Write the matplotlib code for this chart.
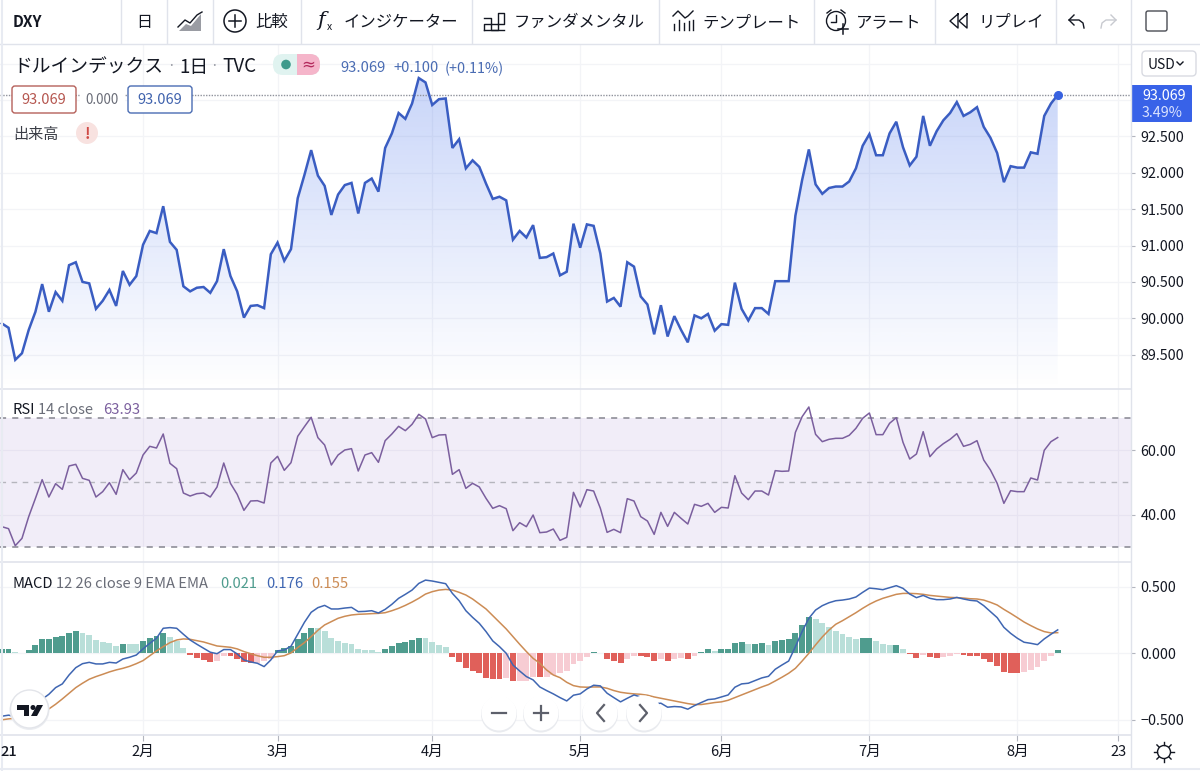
import numpy as np
import matplotlib
matplotlib.use('Agg')
import matplotlib.pyplot as plt
from matplotlib.patches import Circle, FancyBboxPatch, Polygon, Rectangle

plt.rcParams['font.family'] = ['Noto Sans CJK JP', 'DejaVu Sans']

price = [89.93, 89.87, 89.43, 89.52, 89.84, 90.09, 90.47, 90.09, 90.36, 90.24, 90.73, 90.77, 90.50, 90.48, 90.13, 90.24,
         90.39, 90.17, 90.65, 90.46, 90.58, 91.01, 91.20, 91.17, 91.54, 91.05, 90.94, 90.44, 90.37, 90.42, 90.43, 90.35,
         90.51, 90.95, 90.58, 90.37, 90.01, 90.17, 90.18, 90.14, 90.88, 91.04, 90.79, 90.95, 91.65, 91.97, 92.31, 91.96,
         91.82, 91.42, 91.70, 91.83, 91.86, 91.44, 91.86, 91.92, 91.74, 92.34, 92.54, 92.82, 92.74, 92.95, 93.30, 93.24,
         92.93, 93.01, 93.02, 92.34, 92.46, 92.06, 92.17, 92.08, 91.85, 91.64, 91.67, 91.62, 91.08, 91.20, 91.11, 91.28,
         90.83, 90.84, 90.89, 90.59, 90.64, 91.30, 90.97, 91.29, 91.27, 90.89, 90.23, 90.28, 90.16, 90.77, 90.71, 90.30,
         90.19, 89.78, 90.18, 89.75, 90.03, 89.84, 89.67, 90.04, 90.00, 90.06, 89.83, 89.92, 89.91, 90.49, 90.13, 89.97,
         90.14, 90.14, 90.06, 90.51, 90.51, 90.51, 91.41, 91.90, 92.32, 91.84, 91.71, 91.79, 91.81, 91.81, 91.88, 92.06,
         92.37, 92.53, 92.24, 92.24, 92.54, 92.70, 92.35, 92.10, 92.22, 92.78, 92.37, 92.57, 92.72, 92.82, 92.97, 92.78,
         92.83, 92.90, 92.63, 92.48, 92.27, 91.87, 92.09, 92.07, 92.07, 92.28, 92.26, 92.78, 92.95, 93.069]

rsi = [36.22, 35.60, 30.31, 32.59, 39.33, 45.02, 50.83, 45.44, 49.58, 47.82, 55.08, 55.60, 51.24, 50.62, 45.44, 47.10,
       49.90, 46.27, 53.94, 50.83, 52.90, 58.50, 61.19, 60.67, 65.03, 55.91, 54.25, 46.68, 45.75, 46.48, 46.68, 45.44,
       48.55, 56.01, 49.69, 46.27, 41.29, 44.20, 44.30, 43.57, 56.01, 58.08, 53.73, 56.11, 64.30, 67.31, 70.21, 63.89,
       61.61, 55.39, 58.50, 60.05, 60.47, 53.52, 58.50, 59.22, 56.22, 62.95, 65.03, 67.41, 66.06, 68.03, 71.14, 69.69,
       63.89, 64.71, 64.82, 52.49, 53.94, 48.13, 49.69, 48.55, 45.02, 41.92, 42.75, 41.81, 34.97, 37.46, 36.22, 39.84,
       34.35, 34.56, 35.49, 31.97, 32.90, 46.89, 42.33, 47.72, 47.30, 41.92, 34.45, 35.39, 34.35, 44.92, 44.20, 39.33,
       37.98, 33.83, 40.67, 36.32, 40.67, 38.81, 37.05, 43.16, 42.54, 43.47, 40.67, 42.23, 42.02, 52.07, 46.68, 44.61,
       47.30, 47.30, 46.06, 53.63, 53.42, 53.52, 65.54, 70.41, 73.42, 64.92, 62.64, 63.37, 63.68, 63.68, 64.61, 66.79,
       69.90, 71.55, 64.82, 64.82, 68.34, 70.10, 62.43, 57.25, 58.81, 65.75, 57.98, 60.36, 62.02, 63.37, 65.13, 61.19,
       61.81, 62.95, 56.94, 53.83, 49.69, 43.47, 47.41, 47.10, 47.10, 51.35, 50.72, 59.95, 62.64, 63.93]

macd = [-0.473, -0.465, -0.475, -0.445, -0.413, -0.375, -0.345, -0.308, -0.258, -0.230, -0.163, -0.108, -0.078, -0.068,
        -0.080, -0.080, -0.068, -0.073, -0.043, -0.030, -0.013, 0.033, 0.075, 0.113, 0.188, 0.193, 0.188, 0.143, 0.100,
        0.068, 0.038, 0.008, -0.003, 0.028, 0.028, -0.005, -0.050, -0.065, -0.075, -0.100, -0.050, 0.018, 0.025, 0.053,
        0.143, 0.233, 0.308, 0.343, 0.360, 0.333, 0.333, 0.340, 0.345, 0.313, 0.315, 0.320, 0.303, 0.330, 0.368, 0.413,
        0.443, 0.475, 0.525, 0.550, 0.543, 0.533, 0.523, 0.450, 0.395, 0.320, 0.270, 0.225, 0.163, 0.093, 0.050, 0.000,
        -0.088, -0.133, -0.175, -0.200, -0.253, -0.280, -0.305, -0.333, -0.358, -0.315, -0.305, -0.268, -0.240, -0.245,
        -0.300, -0.333, -0.365, -0.338, -0.313, -0.328, -0.345, -0.380, -0.375, -0.405, -0.400, -0.403, -0.420, -0.393,
        -0.370, -0.348, -0.343, -0.328, -0.313, -0.255, -0.230, -0.225, -0.205, -0.185, -0.173, -0.120, -0.088, -0.058,
        0.050, 0.163, 0.263, 0.325, 0.358, 0.380, 0.395, 0.400, 0.408, 0.423, 0.458, 0.490, 0.485, 0.478, 0.493, 0.508,
        0.488, 0.445, 0.418, 0.435, 0.413, 0.403, 0.403, 0.408, 0.420, 0.408, 0.398, 0.393, 0.358, 0.313, 0.268, 0.195,
        0.150, 0.113, 0.083, 0.075, 0.065, 0.108, 0.143, 0.176]

signal = [-0.500, -0.493, -0.488, -0.483, -0.473, -0.458, -0.440, -0.418, -0.383, -0.343, -0.300, -0.258, -0.225, -0.195,
          -0.175, -0.158, -0.140, -0.125, -0.113, -0.098, -0.078, -0.055, -0.018, 0.018, 0.050, 0.080, 0.100, 0.108, 0.105,
          0.095, 0.085, 0.070, 0.055, 0.050, 0.045, 0.033, 0.013, -0.003, -0.018, -0.030, -0.030, -0.025, -0.018, 0.003,
          0.043, 0.080, 0.125, 0.173, 0.213, 0.238, 0.263, 0.278, 0.288, 0.293, 0.295, 0.298, 0.300, 0.305, 0.320, 0.338,
          0.360, 0.385, 0.413, 0.445, 0.463, 0.475, 0.480, 0.475, 0.458, 0.438, 0.408, 0.370, 0.333, 0.283, 0.233, 0.183,
          0.125, 0.068, 0.013, -0.038, -0.075, -0.125, -0.163, -0.183, -0.218, -0.243, -0.253, -0.255, -0.253, -0.253,
          -0.263, -0.280, -0.293, -0.300, -0.305, -0.308, -0.315, -0.328, -0.338, -0.348, -0.358, -0.368, -0.378, -0.385,
          -0.385, -0.378, -0.370, -0.365, -0.353, -0.333, -0.313, -0.293, -0.273, -0.253, -0.235, -0.208, -0.180, -0.150,
          -0.113, -0.058, 0.000, 0.063, 0.123, 0.175, 0.218, 0.245, 0.275, 0.305, 0.338, 0.368, 0.393, 0.413, 0.428, 0.443,
          0.450, 0.450, 0.448, 0.443, 0.435, 0.430, 0.425, 0.420, 0.418, 0.415, 0.410, 0.408, 0.400, 0.383, 0.363, 0.330,
          0.300, 0.268, 0.235, 0.208, 0.183, 0.163, 0.153, 0.155]

hist = [0.030, 0.035, 0.010, 0.005, 0.028, 0.060, 0.105, 0.110, 0.126, 0.128, 0.153, 0.168, 0.153, 0.140, 0.100, 0.083,
        0.080, 0.058, 0.073, 0.070, 0.068, 0.095, 0.115, 0.128, 0.150, 0.125, 0.090, 0.038, -0.012, -0.035, -0.050, -0.065,
        -0.055, -0.020, -0.022, -0.040, -0.065, -0.075, -0.070, -0.060, -0.040, 0.025, 0.043, 0.053, 0.105, 0.153, 0.193,
        0.190, 0.165, 0.115, 0.093, 0.078, 0.070, 0.030, 0.026, 0.025, 0.008, 0.035, 0.058, 0.080, 0.088, 0.098, 0.115,
        0.113, 0.083, 0.060, 0.045, -0.028, -0.065, -0.110, -0.130, -0.145, -0.188, -0.192, -0.194, -0.185, -0.210, -0.208,
        -0.205, -0.178, -0.180, -0.175, -0.160, -0.150, -0.135, -0.080, -0.055, -0.025, 0.012, 0.003, -0.040, -0.060,
        -0.073, -0.040, -0.018, -0.020, -0.030, -0.058, -0.043, -0.058, -0.040, -0.038, -0.043, -0.020, 0.012, 0.030, 0.020,
        0.030, 0.035, 0.080, 0.082, 0.070, 0.072, 0.075, 0.065, 0.090, 0.100, 0.105, 0.155, 0.215, 0.270, 0.260, 0.225,
        0.200, 0.170, 0.145, 0.123, 0.110, 0.115, 0.118, 0.093, 0.068, 0.060, 0.063, 0.035, -0.008, -0.032, -0.012, -0.030,
        -0.032, -0.025, -0.020, -0.005, -0.013, -0.018, -0.020, -0.043, -0.068, -0.098, -0.138, -0.147, -0.149, -0.138,
        -0.125, -0.105, -0.058, -0.018, 0.021]

month_pos = [21, 41, 64, 86, 107, 129, 151, 166]
month_labels = ['2月', '3月', '4月', '5月', '6月', '7月', '8月', '23']
price_ticks = [89.5, 90.0, 90.5, 91.0, 91.5, 92.0, 92.5]
rsi_ticks = [40, 60]
macd_ticks = [-0.5, 0.0, 0.5]

GRID = '#f3f4f7'
EDGE = '#e0e3eb'
TXT = '#131722'
BLUE = '#3a5dc2'


def pane(top, bottom, ymin, ymax):
    a = fig.add_axes([0, 1 - bottom / 771, 1131 / 1200, (bottom - top) / 771])
    a.set_xlim(-0.268, 167.9)
    a.set_ylim(ymin, ymax)
    for s in a.spines.values():
        s.set_visible(False)
    a.yaxis.tick_right()
    a.set_xticks(month_pos)
    a.tick_params(axis='x', length=0, labelbottom=False)
    a.tick_params(axis='y', length=3, color='#b2b5be', labelsize=10.3, labelcolor=TXT, pad=4)
    a.grid(True, color=GRID, linewidth=0.9)
    a.set_axisbelow(True)
    return a


fig = plt.figure(figsize=(12, 7.71), dpi=100, facecolor='white')
x = np.arange(len(price))

# price pane
ax1 = pane(44, 389, 89.029, 93.768)
ax1.set_yticks(price_ticks, ['%.3f' % v for v in price_ticks])
ax1.axhline(93.0, color=GRID, lw=0.9, zorder=0.5)
ax1.axhline(93.5, color=GRID, lw=0.9, zorder=0.5)
area = ax1.fill_between(x, price, 89.029, color='none')
grad = np.zeros((256, 1, 4))
grad[:, :, :3] = matplotlib.colors.to_rgb('#2f5fe8')
grad[:, 0, 3] = np.linspace(0.26, 0.0, 256)
im = ax1.imshow(grad, extent=[x[0], x[-1], 89.029, max(price)], aspect='auto', origin='upper', zorder=1)
im.set_clip_path(area.get_paths()[0], ax1.transData)
ax1.set_xlim(-0.268, 167.9)
ax1.set_ylim(89.029, 93.768)
ax1.plot(x, price, color=BLUE, lw=1.8, zorder=3, solid_joinstyle='miter')
ax1.axhline(price[-1], color='#8f929c', lw=1, ls=(0, (1, 1)), zorder=2)
ax1.plot(x[-1], price[-1], 'o', color='#3862e0', ms=5.5, zorder=4)

# RSI pane
ax2 = pane(389, 562, 25.24, 79.01)
ax2.set_yticks(rsi_ticks, ['%.2f' % v for v in rsi_ticks])
ax2.axhspan(30, 70, color='#7e57c2', alpha=0.10, lw=0, zorder=1)
ax2.axhline(70, color='#85858f', lw=1.1, ls=(0, (4, 4)), zorder=2)
ax2.axhline(50, color='#b5b5bd', lw=1, ls=(0, (4, 4)), zorder=2)
ax2.axhline(30, color='#85858f', lw=1.1, ls=(0, (4, 4)), zorder=2)
ax2.plot(x, rsi, color='#7b5f9e', lw=1.1, zorder=3)

# MACD pane
ax3 = pane(562, 735, -0.614, 0.686)
ax3.set_yticks(macd_ticks, ['−0.500', '0.000', '0.500'])
bar_colors = []
for i, v in enumerate(hist):
    prev = hist[i - 1] if i > 0 else 0
    if v >= 0:
        bar_colors.append('#4f9c8e' if v > prev else '#b9dfd9')
    else:
        bar_colors.append('#e0605a' if v < prev else '#f7ccd3')
ax3.bar(x, hist, width=0.88, color=bar_colors, zorder=2)
ax3.plot(x, signal, color='#cc8c55', lw=1.1, zorder=3)
ax3.plot(x, macd, color='#3f66b2', lw=1.1, zorder=4)
ax3.tick_params(axis='x', length=4, color='#b2b5be', labelbottom=True, labelsize=10.5, labelcolor=TXT, pad=3)
ax3.set_xticks(month_pos, month_labels)

# everything around the panes, in pixels
ov = fig.add_axes([0, 0, 1, 1], zorder=10)
ov.set_xlim(0, 1200)
ov.set_ylim(771, 0)
ov.axis('off')
ov.patch.set_alpha(0)

ov.plot([0, 1200], [43.5, 43.5], color=EDGE, lw=1)
for yy in (389, 562, 735):
    ov.plot([0, 1131], [yy, yy], color=EDGE, lw=1.2)
ov.plot([1131, 1131], [0, 768], color=EDGE, lw=1)
ov.plot([1.5, 1.5], [0, 771], color='#e8ebf2', lw=1.5)
ov.plot([0, 1200], [768.5, 768.5], color='#e8ebf2', lw=1.5)
for sx in (121, 166.5, 212.5, 301, 471.5, 659, 814, 935, 1056):
    ov.plot([sx, sx], [0, 43], color=EDGE, lw=1)

# toolbar
ov.text(13, 22, 'DXY', fontsize=11, fontweight='bold', color=TXT, va='center')
ov.text(144, 22.5, '日', fontsize=11.5, color=TXT, va='center', ha='center')
ov.add_patch(Polygon([(179, 31), (186, 24), (191, 26), (201, 14), (201, 31)], fc='#9a9ca3', ec='none'))
ov.plot([178, 185, 190, 197, 202], [27, 20, 23, 15, 12], color=TXT, lw=1)
ov.add_patch(Circle((235, 21), 11, fc='none', ec=TXT, lw=1.1))
ov.plot([229, 241], [21, 21], color=TXT, lw=1.1)
ov.plot([235, 235], [15, 27], color=TXT, lw=1.1)
ov.text(272, 22.5, '比較', fontsize=11.8, color=TXT, va='center', ha='center')
ov.text(321, 20, 'f', fontsize=15, color=TXT, va='center', ha='center', style='italic', family='DejaVu Serif')
ov.text(329, 27, 'x', fontsize=7.5, color=TXT, va='center', ha='center')
ov.text(401, 22.5, 'インジケーター', fontsize=11.8, color=TXT, va='center', ha='center')
ov.plot([484, 484, 504, 504, 498, 498, 491, 491, 484], [30, 24, 24, 13, 13, 30, 30, 18, 18], color=TXT, lw=1)
ov.plot([484, 504], [30, 30], color=TXT, lw=1)
ov.text(579, 22.5, 'ファンダメンタル', fontsize=11.8, color=TXT, va='center', ha='center')
ov.plot([673, 678, 685, 688, 693], [16, 11, 18, 16, 11], color=TXT, lw=1)
for bx, bt in zip((674, 679, 684, 689, 693), (24, 20, 23, 21, 20)):
    ov.plot([bx, bx], [bt, 30], color=TXT, lw=1)
ov.text(752, 22.5, 'テンプレート', fontsize=11.8, color=TXT, va='center', ha='center')
ov.add_patch(Circle((836, 21), 9.5, fc='none', ec=TXT, lw=1))
ov.plot([836, 836, 831], [15, 22, 22], color=TXT, lw=1)
ov.plot([827, 831], [13, 10], color=TXT, lw=1)
ov.plot([845, 841], [13, 10], color=TXT, lw=1)
ov.plot([838, 848], [29, 29], color=TXT, lw=1.1)
ov.plot([843, 843], [24, 34], color=TXT, lw=1.1)
ov.text(889, 22.5, 'アラート', fontsize=11.8, color=TXT, va='center', ha='center')
ov.plot([958, 950, 958, 958], [14, 21, 28, 14], color=TXT, lw=1)
ov.plot([967, 959, 967, 967], [14, 21, 28, 14], color=TXT, lw=1)
ov.text(1011, 22.5, 'リプレイ', fontsize=11.8, color=TXT, va='center', ha='center')
ov.plot([1084, 1083, 1079, 1069], [28, 23, 20, 20], color=TXT, lw=1)
ov.plot([1074, 1069, 1074], [15, 20, 25], color=TXT, lw=1)
ov.plot([1101, 1102, 1106, 1116], [28, 23, 20, 20], color='#c8cad0', lw=1)
ov.plot([1111, 1116, 1111], [15, 20, 25], color='#c8cad0', lw=1)
ov.add_patch(FancyBboxPatch((1146, 11), 21, 20, boxstyle='round,pad=0,rounding_size=2', fc='white', ec='#4a4c54', lw=1))

# chart title row
ov.text(13, 67, 'ドルインデックス', fontsize=13.5, color=TXT, va='center')
ov.text(171, 66, '·', fontsize=10, color='#9598a1', va='center', ha='center')
ov.text(194, 67, '1日', fontsize=13.5, color=TXT, va='center', ha='center')
ov.text(214, 66, '·', fontsize=10, color='#9598a1', va='center', ha='center')
ov.text(222, 66, 'TVC', fontsize=13.5, color=TXT, va='center')
ov.add_patch(FancyBboxPatch((273, 54), 47, 21, boxstyle='round,pad=0,rounding_size=10', fc='#e0f3f0', ec='none'))
pink = FancyBboxPatch((273, 54), 47, 21, boxstyle='round,pad=0,rounding_size=10', fc='#f5b5ca', ec='none')
ov.add_patch(pink)
clip_rect = Rectangle((297, 50), 30, 30, transform=ov.transData)
pink.set_clip_path(clip_rect)
ov.add_patch(Circle((286, 64.5), 4.8, fc='#3f9a8c', ec='none'))
ov.text(308, 64, '≈', fontsize=12, color='#b3295c', va='center', ha='center', family='DejaVu Sans')
ov.text(340, 68.5, '93.069', fontsize=10.6, color='#4a6cb3', va='center')
ov.text(393, 68.5, '+0.100', fontsize=10.6, color='#4a6cb3', va='center')
ov.text(445, 68.5, '(+0.11%)', fontsize=10.4, color='#4a6cb3', va='center')

ov.add_patch(FancyBboxPatch((12, 86), 64, 27, boxstyle='round,pad=0,rounding_size=3', fc='white', ec='#b5605a', lw=1))
ov.text(44, 100.5, '93.069', fontsize=10.5, color='#b5564f', va='center', ha='center')
ov.text(102, 100, '0.000', fontsize=9.6, color='#6a6d78', va='center', ha='center', backgroundcolor='white')
ov.add_patch(FancyBboxPatch((128, 86), 64, 27, boxstyle='round,pad=0,rounding_size=3', fc='white', ec='#4a6cb3', lw=1))
ov.text(160, 100.5, '93.069', fontsize=10.5, color='#3f62ad', va='center', ha='center')
ov.text(13, 134.5, '出来高', fontsize=10.9, color='#3a3d46', va='center')
ov.add_patch(Circle((87, 133), 11, fc='#f8e2e0', ec='none'))
ov.text(87, 134, '!', fontsize=11, fontweight='bold', color='#cf4a45', va='center', ha='center')

# USD button and last value box
ov.add_patch(FancyBboxPatch((1142, 51), 54, 25, boxstyle='round,pad=0,rounding_size=4', fc='white', ec='#d9dbe2', lw=1))
ov.text(1148, 65, 'USD', fontsize=10, color=TXT, va='center')
ov.plot([1177, 1180, 1183], [62, 65, 62], color=TXT, lw=1)
ov.add_patch(FancyBboxPatch((1131, 85), 61, 37, boxstyle='round,pad=0,rounding_size=1', fc='#3862e8', ec='none'))
ov.text(1142, 95.5, '93.069', fontsize=10.3, color='white', va='center')
ov.text(1142, 113, '3.49%', fontsize=10.3, color='#dbe3ff', va='center')

# indicator legends
ov.text(13, 410, 'RSI', fontsize=10.6, color=TXT, va='center')
ov.text(38, 410, '14 close', fontsize=10.6, color='#6a6d78', va='center')
ov.text(103, 410, '63.93', fontsize=10.6, color='#7b5f9e', va='center')
ov.text(12, 584, 'MACD', fontsize=10.6, color=TXT, va='center')
ov.text(56, 584, '12 26 close 9 EMA EMA', fontsize=10.6, color='#6a6d78', va='center')
ov.text(220, 584, '0.021', fontsize=10.6, color='#4f9c8e', va='center')
ov.text(266, 584, '0.176', fontsize=10.6, color='#3f66b2', va='center')
ov.text(311, 584, '0.155', fontsize=10.6, color='#cc8c55', va='center')

# logo and zoom buttons
ov.add_patch(Circle((29.5, 710), 20, fc='#ebedf1', ec='none'))
ov.add_patch(Circle((29.5, 709), 19, fc='white', ec='#e3e5ea', lw=1))
ov.add_patch(Polygon([(17, 705), (29, 705), (29, 716), (24, 716), (24, 710), (17, 710)], fc='#131722', ec='none'))
ov.add_patch(Circle((33, 707.5), 2.5, fc='#131722', ec='none'))
ov.add_patch(Polygon([(37, 705), (43, 705), (37, 716), (31, 716)], fc='#131722', ec='none'))
for bx in (499, 541, 600, 644):
    ov.add_patch(Circle((bx, 714.5), 18, fc='#e9ebef', ec='none'))
    ov.add_patch(Circle((bx, 713), 17.5, fc='white', ec='none'))
ov.plot([492, 506], [713, 713], color='#5d606b', lw=1.6)
ov.plot([534, 548], [713, 713], color='#5d606b', lw=1.6)
ov.plot([541, 541], [706, 720], color='#5d606b', lw=1.6)
ov.plot([604, 597, 604], [705, 713, 721], color='#5d606b', lw=1.6)
ov.plot([640, 647, 640], [705, 713, 721], color='#5d606b', lw=1.6)

# bottom row
ov.text(9, 752, '21', fontsize=10.5, color=TXT, va='center', ha='center', fontweight='medium')
ov.add_patch(Circle((1164, 752), 6.5, fc='none', ec=TXT, lw=1))
for ang in np.arange(0, 360, 45):
    ca, sa = np.cos(np.radians(ang)), np.sin(np.radians(ang))
    ov.plot([1164 + 7 * ca, 1164 + 10 * ca], [752 + 7 * sa, 752 + 10 * sa], color=TXT, lw=1)

fig.savefig('out.png', dpi=100)
